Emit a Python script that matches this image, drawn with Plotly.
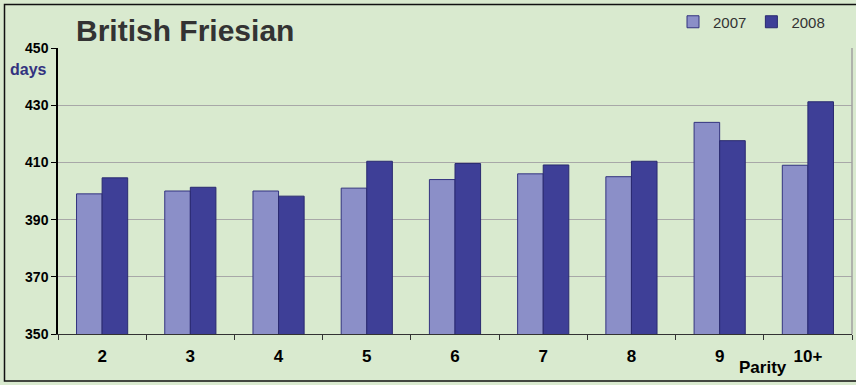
import plotly.graph_objects as go

categories = ["2", "3", "4", "5", "6", "7", "8", "9", "10+"]
values_2007 = [399, 400, 400, 401, 404, 406, 405, 424, 409]
values_2008 = [404.6, 401.3, 398.2, 410.4, 409.6, 409.1, 410.4, 417.6, 431.2]
y_ticks = [350, 370, 390, 410, 430, 450]

W, H = 856, 385
L, R, T, B = 58, 4, 48, 51

FONT = "Liberation Sans, Arial, sans-serif"

fig = go.Figure()
fig.add_trace(go.Bar(name="2007", x=categories, y=values_2007,
                     marker=dict(color="#8B8FC8", line=dict(color="#33337F", width=1))))
fig.add_trace(go.Bar(name="2008", x=categories, y=values_2008,
                     marker=dict(color="#3E3F97", line=dict(color="#2A2A70", width=1))))

pw = W - L - R
ph = H - T - B
def px(x):
    return (x - L) / pw
def py(y):
    return (H - B - y) / ph

fig.update_layout(
    width=W, height=H,
    margin=dict(l=L, r=R, t=T, b=B),
    paper_bgcolor="#D9EACF",
    plot_bgcolor="#D9EACF",
    barmode="group",
    bargap=0.42,
    bargroupgap=0,
    font=dict(family=FONT, color="#000"),
    showlegend=True,
    legend=dict(orientation="h", x=px(830), xanchor="right", y=py(22), yanchor="middle",
                xref="paper", yref="paper",
                font=dict(size=15, color="#333", family=FONT), bgcolor="rgba(0,0,0,0)",
                traceorder="normal", itemwidth=30),
    xaxis=dict(showgrid=False, ticks="outside", tickson="boundaries", ticklen=5,
               tickcolor="#333", showline=True, linecolor="#333", linewidth=1,
               tickfont=dict(size=17, family=FONT, color="#000", weight="bold"),
               ticklabelstandoff=7),
    yaxis=dict(range=[350, 450], tickvals=y_ticks, ticks="outside", ticklen=5,
               tickcolor="#000", showline=True, linecolor="#000", linewidth=1.5,
               gridcolor="#A8A8A8", gridwidth=1,
               tickfont=dict(size=14, family=FONT, color="#000", weight="bold")),
)

# plot area right border
fig.add_shape(type="line", xref="paper", yref="paper", x0=1, x1=1, y0=0, y1=1,
              line=dict(color="#A0A0A0", width=1.5))
# outer border
fig.add_shape(type="rect", xref="paper", yref="paper",
              x0=px(4.5), x1=px(858), y0=py(381), y1=py(4.5),
              line=dict(color="#111", width=1.5), fillcolor="rgba(0,0,0,0)", layer="above")

fig.add_annotation(text="<b>British Friesian</b>", xref="paper", yref="paper",
                   x=px(74), y=py(30), xanchor="left", yanchor="middle", showarrow=False,
                   font=dict(size=30, color="#333333", family=FONT))
fig.add_annotation(text="<b>days</b>", xref="paper", yref="paper",
                   x=px(49), y=py(70), xanchor="right", yanchor="middle", showarrow=False,
                   font=dict(size=16, color="#33337F", family=FONT))
fig.add_annotation(text="<b>Parity</b>", xref="paper", yref="paper",
                   x=px(763), y=py(367), xanchor="center", yanchor="middle", showarrow=False,
                   font=dict(size=17, color="#000", family=FONT))

fig.write_html("out.html", config={"displayModeBar": False},
               post_script="document.body.style.margin='0';document.body.style.overflow='hidden';")
